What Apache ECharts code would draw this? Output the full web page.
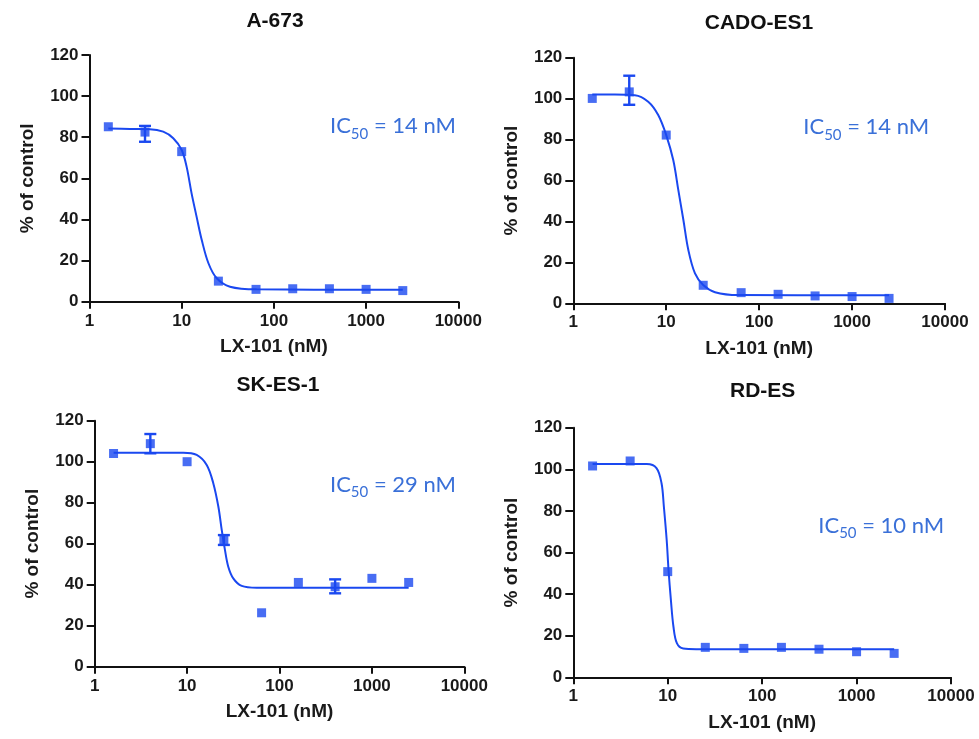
<!DOCTYPE html>
<html>
<head>
<meta charset="utf-8">
<script src="https://cdn.jsdelivr.net/npm/echarts@6/dist/echarts.min.js"></script>
<style>html,body{margin:0;padding:0;background:#fff;}#chart{width:979px;height:739px;}</style>
</head>
<body>
<div id="chart"></div>
<script>
// ---- data ----
const panelTitles = ['A-673', 'CADO-ES1', 'SK-ES-1', 'RD-ES'];
const ic50Values = ['14', '14', '29', '10'];
const xTicks = [1, 10, 100, 1000, 10000];
const yTicks = [0, 20, 40, 60, 80, 100, 120];
const conc = [1.6, 4, 10, 25, 64, 160, 400, 1000, 2500];

const a673Resp = [85.1, 82.5, 73, 10, 6, 6.3, 6.3, 6, 5.4];
const a673ErrX = [4];
const a673ErrLow = [77.8];
const a673ErrHigh = [85.5];
const a673FitX = [1.6, 2.75, 4.5, 6.3, 8.1, 10, 11.3, 12.8, 14.5, 16.5, 19.5, 24, 33.4, 65, 2500];
const a673FitY = [84.2, 84.0, 83.9, 82.7, 79.5, 73.8, 65.7, 52.7, 41.4, 30, 18.7, 11.4, 7.3, 6.0, 5.8];

const cadoResp = [100.1, 103.3, 82.2, 8.8, 5.2, 4.4, 3.6, 3.3, 2.4];
const cadoErrX = [4];
const cadoErrLow = [97.0];
const cadoErrHigh = [111.2];
const cadoFitX = [1.6, 2.8, 4.6, 6.4, 8.2, 10, 11.9, 13.5, 15.3, 17.3, 20.4, 25, 33.5, 60, 2500];
const cadoFitY = [102, 102, 101.7, 98.5, 92, 82.2, 70, 55.3, 40.7, 26, 14.6, 8.9, 5.4, 4.0, 3.9];

const skesResp = [104, 108.8, 100, 61.8, 26.3, 41.1, 39, 43.1, 41.1];
const skesErrX = [4, 25, 400];
const skesErrLow = [104.1, 59.4, 35.8];
const skesErrHigh = [113.5, 64.2, 42.6];
const skesFitX = [1.6, 4, 9.1, 12.7, 16.3, 19.2, 21.8, 23.7, 25.7, 27.9, 31.6, 39, 56.6, 2500];
const skesFitY = [104.4, 104.4, 104.4, 103.3, 98.4, 89.5, 78, 66.7, 56.9, 48.8, 43.1, 39.4, 38.5, 38.5];

const rdesResp = [101.6, 104, 50.8, 14.4, 13.9, 14.4, 13.5, 12.3, 11.5];
const rdesErrX = [];
const rdesErrLow = [];
const rdesErrHigh = [];
const rdesFitX = [1.6, 6.0, 7.6, 8.6, 9.1, 9.75, 10.2, 10.8, 11.5, 12.5, 14.6, 20, 2500];
const rdesFitY = [102.5, 102.5, 100.6, 93.3, 82.1, 66, 51.6, 37.2, 24.3, 16.4, 13.8, 13.5, 13.5];

// ---- layout / style ----
const BLUE = '#1a48f0';
const TXT_BLUE = '#3a70d8';
const AXIS_FONT = '"Liberation Sans", Arial, sans-serif';
const grids = [
  {left: 89.5, top: 55, width: 368.8, height: 246.7},
  {left: 573.3, top: 57.7, width: 371.7, height: 245.6},
  {left: 94.7, top: 420.7, width: 369.6, height: 246},
  {left: 573.3, top: 427.7, width: 377.7, height: 249.6}
];
const titlePos = [[275, 20.8], [759, 22.8], [278, 385.3], [762.7, 390.8]];
const icPos = [[330, 133.3], [803.3, 134.3], [330, 491.7], [818.3, 532.7]];

const panels = [
  {resp: a673Resp, ex: a673ErrX, el: a673ErrLow, eh: a673ErrHigh, fx: a673FitX, fy: a673FitY},
  {resp: cadoResp, ex: cadoErrX, el: cadoErrLow, eh: cadoErrHigh, fx: cadoFitX, fy: cadoFitY},
  {resp: skesResp, ex: skesErrX, el: skesErrLow, eh: skesErrHigh, fx: skesFitX, fy: skesFitY},
  {resp: rdesResp, ex: rdesErrX, el: rdesErrLow, eh: rdesErrHigh, fx: rdesFitX, fy: rdesFitY}
];

const measureCtx = document.createElement('canvas').getContext('2d');
function textW(t, font) { measureCtx.font = font; return measureCtx.measureText(t).width; }

const chart = echarts.init(document.getElementById('chart'), null, {renderer: 'canvas'});

const xAxes = [], yAxes = [], series = [], graphics = [];
grids.forEach((g, i) => {
  xAxes.push({
    gridIndex: i, type: 'log', logBase: 10, min: xTicks[0], max: xTicks[xTicks.length - 1],
    name: 'LX-101 (nM)', nameLocation: 'middle', nameGap: 36,
    nameTextStyle: {fontFamily: AXIS_FONT, fontWeight: 'bold', fontSize: 19, color: '#1a1a1a'},
    axisLine: {lineStyle: {color: '#111', width: 2}},
    axisTick: {show: true, inside: false, length: 7, lineStyle: {color: '#111', width: 2}},
    minorTick: {show: false},
    splitLine: {show: false},
    axisLabel: {fontFamily: AXIS_FONT, fontWeight: 'bold', fontSize: 17, color: '#1a1a1a', margin: 11,
      showMinLabel: true, showMaxLabel: true, formatter: v => String(Math.round(v))}
  });
  yAxes.push({
    gridIndex: i, type: 'value', min: yTicks[0], max: yTicks[yTicks.length - 1], interval: 20,
    name: '% of control', nameLocation: 'middle', nameGap: 52, nameRotate: 90,
    nameTextStyle: {fontFamily: AXIS_FONT, fontWeight: 'bold', fontSize: 19, color: '#1a1a1a'},
    axisLine: {show: true, lineStyle: {color: '#111', width: 2}},
    axisTick: {show: true, inside: false, length: 8, lineStyle: {color: '#111', width: 2}},
    splitLine: {show: false},
    axisLabel: {fontFamily: AXIS_FONT, fontWeight: 'bold', fontSize: 17, color: '#1a1a1a', margin: 11}
  });
  const p = panels[i];
  series.push({
    type: 'line', xAxisIndex: i, yAxisIndex: i, showSymbol: false, smooth: 0.35,
    lineStyle: {color: BLUE, width: 2}, silent: true, z: 2,
    data: p.fx.map((x, k) => [x, p.fy[k]])
  });
  series.push({
    type: 'custom', xAxisIndex: i, yAxisIndex: i, z: 3, silent: true,
    encode: {x: 0, y: [1, 2]},
    data: p.ex.map((x, k) => [x, p.el[k], p.eh[k]]),
    renderItem: function (params, api) {
      const x = api.value(0);
      const lo = api.coord([x, api.value(1)]);
      const hi = api.coord([x, api.value(2)]);
      const w = 6;
      const st = {stroke: BLUE, lineWidth: 2.4};
      return {type: 'group', children: [
        {type: 'line', shape: {x1: hi[0], y1: hi[1], x2: lo[0], y2: lo[1]}, style: st},
        {type: 'line', shape: {x1: hi[0] - w, y1: hi[1], x2: hi[0] + w, y2: hi[1]}, style: st},
        {type: 'line', shape: {x1: lo[0] - w, y1: lo[1], x2: lo[0] + w, y2: lo[1]}, style: st}
      ]};
    }
  });
  series.push({
    type: 'scatter', xAxisIndex: i, yAxisIndex: i, symbol: 'rect', symbolSize: 9, z: 4, silent: true,
    itemStyle: {color: BLUE},
    data: conc.map((x, k) => [x, p.resp[k]])
  });
  // titles
  graphics.push({
    type: 'text', x: titlePos[i][0], y: titlePos[i][1],
    style: {text: panelTitles[i], fill: '#111', font: 'bold 21px ' + AXIS_FONT, align: 'center', verticalAlign: 'middle'}
  });
  // IC50 annotations
  const mainFont = '22px Lato, "Open Sans", sans-serif';
  const subFont = '15px Lato, "Open Sans", sans-serif';
  const w1 = textW('IC', mainFont);
  const w2 = textW('50', subFont);
  const bx = icPos[i][0], by = icPos[i][1];
  graphics.push({type: 'text', x: bx, y: by + 4, style: {text: 'IC', fill: TXT_BLUE, font: mainFont, verticalAlign: 'bottom'}});
  graphics.push({type: 'text', x: bx + w1, y: by + 8, style: {text: '50', fill: TXT_BLUE, font: subFont, verticalAlign: 'bottom'}});
  graphics.push({type: 'text', x: bx + w1 + w2, y: by + 4, style: {text: ' = ' + ic50Values[i] + ' nM', fill: TXT_BLUE, font: mainFont, verticalAlign: 'bottom'}});
});

chart.setOption({
  backgroundColor: '#fff',
  animation: false,
  grid: grids.map(g => Object.assign({containLabel: false}, g)),
  xAxis: xAxes,
  yAxis: yAxes,
  series: series,
  graphic: graphics
});
</script>
</body>
</html>
